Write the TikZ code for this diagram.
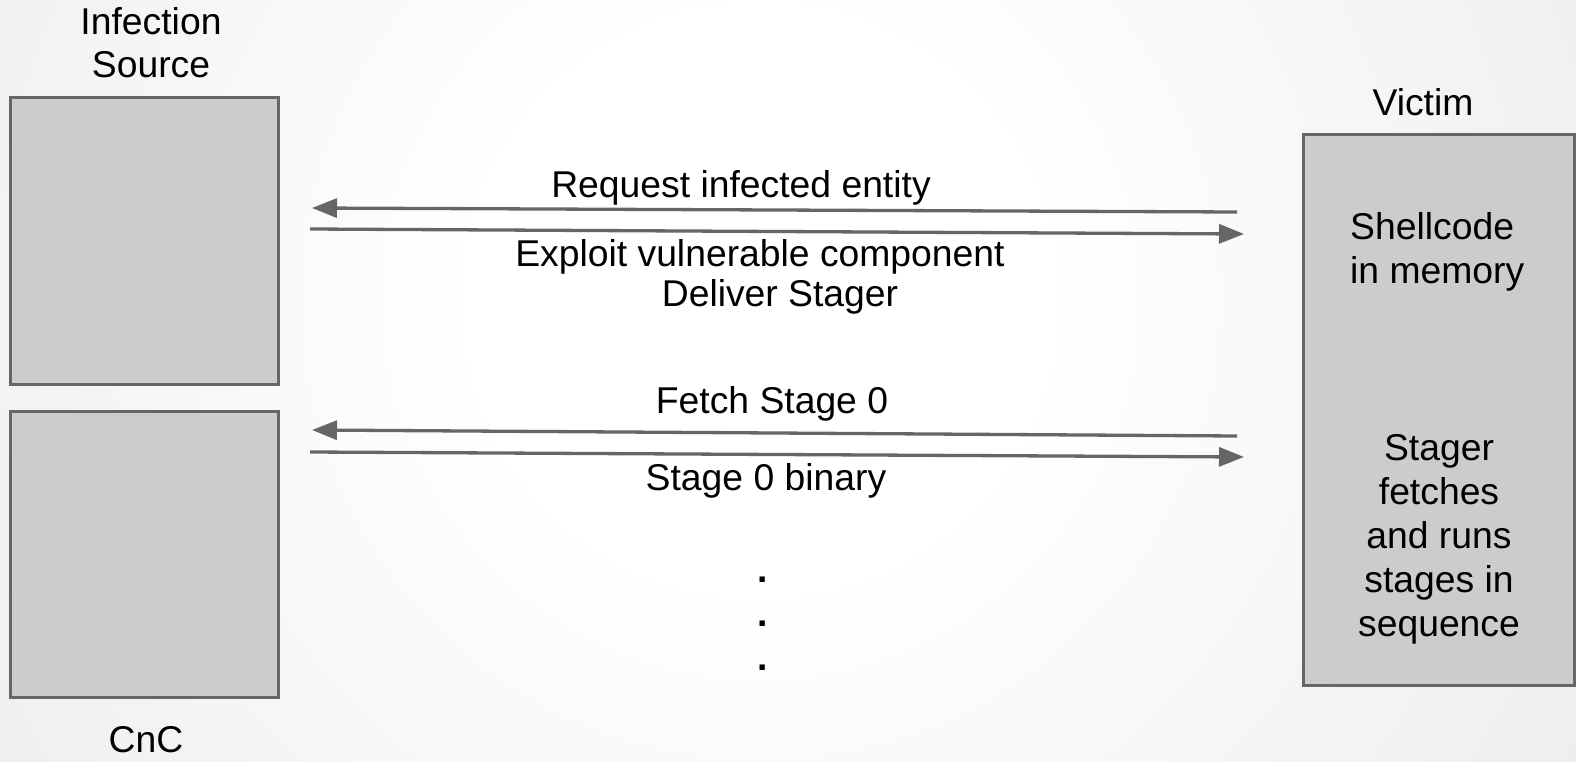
\documentclass[tikz,border=0pt]{standalone}
\usepackage{fontspec}
\setmainfont{Liberation Sans}
\usetikzlibrary{arrows.meta}
\definecolor{bgout}{HTML}{D9D9D9}
\definecolor{boxfill}{HTML}{CCCCCC}
\definecolor{boxline}{HTML}{666666}
\pgfdeclareradialshading{bgshade}{\pgfpoint{0bp}{0bp}}{color(0bp)=(white); color(8bp)=(white); color(50bp)=(bgout)}
\tikzset{
  box/.style={draw=boxline, fill=boxfill, line width=3pt, inner sep=0pt},
  lbl/.style={inner sep=0pt, anchor=base, text=black, font=\fontsize{37.3}{44}\selectfont},
  lblw/.style={lbl, anchor=base west},
  arr/.style={draw=boxline, line width=3.3pt, -{Triangle[length=25pt, width=19pt]}},
}
\begin{document}
\begin{tikzpicture}[x=1pt, y=-1pt]
\useasboundingbox (0,0) rectangle (1576,762);
\begin{scope}
\clip (0,0) rectangle (1576,762);
\shade[shading=bgshade] (-120,-580) rectangle (1640,1180);
\end{scope}
% boxes
\node[box, minimum width=268pt, minimum height=287pt] (src) at (144,241) {};
\node[box, minimum width=268pt, minimum height=286pt] (cnc) at (144,554) {};
\node[box, minimum width=271pt, minimum height=550pt] (vic) at (1438.5,410) {};
% box labels
\node[lbl] (srcA) at (151,35) {Infection};
\node[lbl] (srcB) at (151,78) {Source};
\node[lbl] (cncL) at (146,752) {CnC};
\node[lbl] (vicL) at (1423,116) {Victim};
\node[lblw] (shA) at (1350,240) {Shellcode};
\node[lblw] (shB) at (1350,283) {in memory};
\node[lbl] (stA) at (1439,460) {Stager};
\node[lbl] (stB) at (1439,504.5) {fetches};
\node[lbl] (stC) at (1439,548.5) {and runs};
\node[lbl] (stD) at (1439,592.5) {stages in};
\node[lbl] (stE) at (1439,636.5) {sequence};
% arrows
\coordinate (a1s) at (1237,212);
\coordinate (a1e) at (312,208);
\coordinate (a2s) at (310,229);
\coordinate (a2e) at (1244,234);
\coordinate (a3s) at (1237,436);
\coordinate (a3e) at (312,430);
\coordinate (a4s) at (310,452);
\coordinate (a4e) at (1244,457);
\draw[arr] (a1s) -- (a1e);
\draw[arr] (a2s) -- (a2e);
\draw[arr] (a3s) -- (a3e);
\draw[arr] (a4s) -- (a4e);
% arrow labels
\node[lbl] (req) at (741,197) {Request infected entity};
\node[lbl] (expl) at (760,266) {Exploit vulnerable component};
\node[lbl] (deliv) at (780,306) {Deliver Stager};
\node[lbl] (fetch) at (772,413) {Fetch Stage 0};
\node[lbl] (bin) at (766,490) {Stage 0 binary};
\node[lbl] (d1) at (763,582) {\textbf{.}};
\node[lbl] (d2) at (763,626) {\textbf{.}};
\node[lbl] (d3) at (763,670) {\textbf{.}};
\end{tikzpicture}
\end{document}
